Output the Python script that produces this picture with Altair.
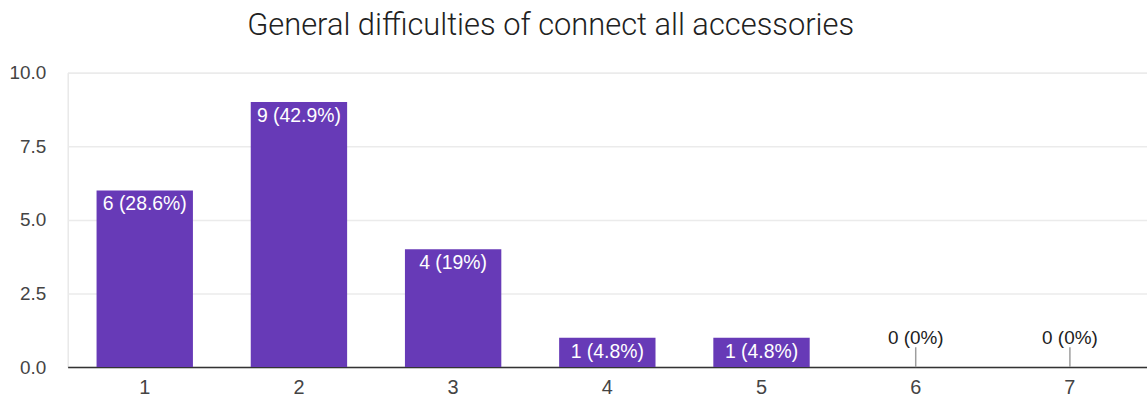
import altair as alt
import pandas as pd

categories = ["1", "2", "3", "4", "5", "6", "7"]
counts = [6, 9, 4, 1, 1, 0, 0]
labels = ["6 (28.6%)", "9 (42.9%)", "4 (19%)", "1 (4.8%)", "1 (4.8%)", "0 (0%)", "0 (0%)"]
y_ticks = [0, 2.5, 5, 7.5, 10]

df = pd.DataFrame({"cat": categories, "count": counts, "label": labels})

x = alt.X("cat:N", sort=categories, title=None,
          scale=alt.Scale(paddingInner=0.375, paddingOuter=0.1875, round=False),
          axis=alt.Axis(labelAngle=0, labelFont="Liberation Sans", labelFontSize=20,
                        labelColor="#444444", ticks=False, domainColor="#333333",
                        domainWidth=1.5, labelPadding=11, grid=False))
y = alt.Y("count:Q", title=None,
          scale=alt.Scale(domain=[0, 10], nice=False),
          axis=alt.Axis(values=y_ticks, format=".1f", labelFont="Liberation Sans",
                        labelFontSize=19, labelColor="#444444", ticks=False, domain=False,
                        gridColor="#ebebeb", gridWidth=1.5, labelPadding=22))

base = alt.Chart(df)

bars = base.mark_bar(color="#673ab7").encode(x=x, y=y)

inner = base.transform_filter("datum.count > 0").mark_text(
    baseline="top", dy=5, color="white", font="Liberation Sans", fontSize=19.5
).encode(x=alt.X("cat:N", sort=categories), y="count:Q", text="label:N")

zero_rule = base.transform_filter("datum.count == 0").mark_rule(
    color="#9e9e9e", strokeWidth=1.5, y2Offset=-20
).encode(x=alt.X("cat:N", sort=categories), y="count:Q", y2="count:Q")

zero_text = base.transform_filter("datum.count == 0").mark_text(
    baseline="alphabetic", dy=-23, color="#212121", font="Liberation Sans", fontSize=19
).encode(x=alt.X("cat:N", sort=categories), y="count:Q", text="label:N")

chart = alt.layer(bars, inner, zero_rule, zero_text).properties(
    width=1085, height=296,
    title=alt.TitleParams("General difficulties of connect all accessories",
                          font="Roboto", fontSize=31, fontWeight=300, color="#212121",
                          anchor="middle", dx=-57, offset=22),
    autosize=alt.AutoSizeParams(type="none"),
    padding={"left": 68, "top": 72, "right": 0, "bottom": 31},
).configure_view(stroke=None).configure(background="white")

chart.save("out.html", embed_options={"renderer": "svg", "actions": False})
